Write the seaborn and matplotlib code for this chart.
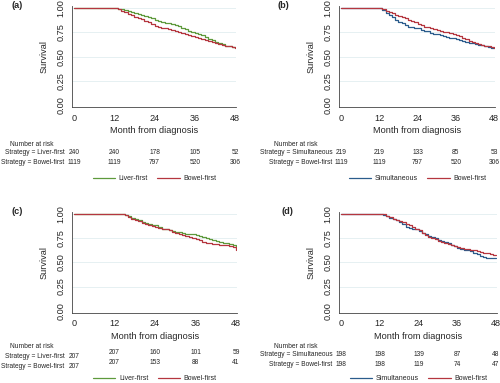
import numpy as np
import pandas as pd
import matplotlib
matplotlib.use("Agg")
import matplotlib.pyplot as plt
import matplotlib.transforms as mtransforms
import seaborn as sns

# tiempos (meses) y supervivencia
months = [0] + list(range(12, 49))

a_liver = [1.00, 1.00, 0.995, 0.99, 0.98, 0.97, 0.96, 0.95, 0.94, 0.93, 0.92, 0.91, 0.895, 0.88,
           0.87, 0.86, 0.85, 0.845, 0.84, 0.83, 0.82, 0.80, 0.785, 0.77, 0.755, 0.74, 0.73, 0.72,
           0.70, 0.685, 0.67, 0.655, 0.645, 0.63, 0.615, 0.605, 0.595, 0.59]
a_bowel = [1.00, 1.00, 0.99, 0.975, 0.96, 0.945, 0.93, 0.915, 0.90, 0.885, 0.87, 0.855, 0.835, 0.82,
           0.81, 0.80, 0.795, 0.785, 0.775, 0.765, 0.755, 0.745, 0.735, 0.725, 0.715, 0.70, 0.69,
           0.68, 0.67, 0.66, 0.65, 0.64, 0.63, 0.62, 0.61, 0.605, 0.60, 0.59]
b_simul = [1.00, 1.00, 0.98, 0.955, 0.93, 0.905, 0.88, 0.86, 0.845, 0.83, 0.81, 0.805, 0.80, 0.795,
           0.78, 0.77, 0.765, 0.745, 0.735, 0.73, 0.72, 0.71, 0.70, 0.695, 0.69, 0.685, 0.675,
           0.665, 0.655, 0.645, 0.64, 0.635, 0.625, 0.62, 0.61, 0.60, 0.59, 0.59]
b_bowel = [1.00, 1.00, 0.99, 0.975, 0.965, 0.95, 0.935, 0.92, 0.905, 0.895, 0.88, 0.865, 0.855, 0.84,
           0.825, 0.81, 0.805, 0.80, 0.79, 0.78, 0.77, 0.76, 0.75, 0.74, 0.73, 0.72, 0.71, 0.695,
           0.68, 0.665, 0.655, 0.645, 0.635, 0.625, 0.615, 0.61, 0.60, 0.59]
c_liver = [1.00, 1.00, 1.00, 0.995, 0.99, 0.975, 0.96, 0.945, 0.935, 0.92, 0.91, 0.90, 0.89, 0.885,
           0.87, 0.85, 0.84, 0.835, 0.825, 0.815, 0.81, 0.80, 0.795, 0.79, 0.79, 0.785, 0.77, 0.76,
           0.75, 0.74, 0.735, 0.725, 0.715, 0.705, 0.695, 0.685, 0.68, 0.66]
c_bowel = [1.00, 1.00, 1.00, 0.995, 0.99, 0.97, 0.95, 0.935, 0.925, 0.91, 0.90, 0.89, 0.88, 0.87,
           0.855, 0.845, 0.84, 0.83, 0.815, 0.80, 0.79, 0.78, 0.77, 0.76, 0.755, 0.745, 0.73,
           0.715, 0.705, 0.695, 0.69, 0.685, 0.68, 0.675, 0.675, 0.67, 0.66, 0.63]
d_simul = [1.00, 1.00, 0.99, 0.975, 0.96, 0.945, 0.935, 0.92, 0.895, 0.865, 0.86, 0.85, 0.845, 0.82,
           0.80, 0.79, 0.775, 0.765, 0.75, 0.735, 0.725, 0.71, 0.695, 0.68, 0.665, 0.645, 0.635,
           0.63, 0.625, 0.615, 0.60, 0.585, 0.565, 0.555, 0.55, 0.545, 0.54, 0.54]
d_bowel = [1.00, 1.00, 0.995, 0.98, 0.965, 0.95, 0.94, 0.93, 0.915, 0.90, 0.89, 0.87, 0.85, 0.83,
           0.805, 0.785, 0.765, 0.75, 0.74, 0.725, 0.715, 0.70, 0.69, 0.68, 0.67, 0.655, 0.645,
           0.64, 0.635, 0.63, 0.625, 0.615, 0.605, 0.60, 0.595, 0.585, 0.575, 0.575]

risk_months = [0, 12, 24, 36, 48]
a_risk = {"Liver-first": [240, 240, 178, 105, 52], "Bowel-first": [1119, 1119, 797, 520, 306]}
b_risk = {"Simultaneous": [219, 219, 133, 85, 53], "Bowel-first": [1119, 1119, 797, 520, 306]}
c_risk = {"Liver-first": [207, 207, 160, 101, 59], "Bowel-first": [207, 207, 153, 88, 41]}
d_risk = {"Simultaneous": [198, 198, 139, 87, 48], "Bowel-first": [198, 198, 119, 74, 47]}

colores = {"Liver-first": "#5e9a3c", "Bowel-first": "#b5363f", "Simultaneous": "#2b5c8c"}

W, H = 500, 383
sns.set_style("white")
plt.rcParams["font.family"] = ["Liberation Sans", "DejaVu Sans"]

fig = plt.figure(figsize=(W / 100, H / 100), dpi=100)

XLIM = (-0.6, 48.3)
YLIM = (-0.025, 1.02)
FS_TAB = 4.75


def fy(py):
    return 1 - py / H


# (etiqueta, series, riesgo, px x=0, px x=48, px y=1, px y=0, desplazamiento vertical,
#  x ylabel, borde derecho de etiquetas, centro "Number at risk", filas, ajuste primera col.,
#  x de la etiqueta del panel, y de la leyenda)
paneles = [
    ("(a)", {"Liver-first": a_liver, "Bowel-first": a_bowel}, a_risk, 74, 235, 8.3, 105,
     0, 49, 64, 32, (145, 153, 163), 0, 12, 179),
    ("(b)", {"Simultaneous": b_simul, "Bowel-first": b_bowel}, b_risk, 341, 494, 8.3, 105,
     0, 316, 332, 296, (144, 153, 163), 0, 278, 179),
    ("(c)", {"Liver-first": c_liver, "Bowel-first": c_bowel}, c_risk, 74, 236, 214, 310.7,
     206, 49, 64, 32, (347, 353, 363), 3, 12, 378.5),
    ("(d)", {"Simultaneous": d_simul, "Bowel-first": d_bowel}, d_risk, 341, 496, 214, 310.7,
     206, 316, 332, 296, (347, 355, 365), 0, 282, 378.5),
]

for (etiq, series, riesgo, x0, x48, y1, y0, dy, ylab_x, lab_right, nar_x, filas,
     shift0, etiq_x, leg_y) in paneles:
    sx = (x48 - x0) / 48.0
    sy = (y0 - y1)
    left = x0 + XLIM[0] * sx
    right = x0 + XLIM[1] * sx
    top = y0 - YLIM[1] * sy
    bottom = y0 - YLIM[0] * sy
    ax = fig.add_axes([left / W, fy(bottom), (right - left) / W, (bottom - top) / H])

    df = pd.concat([pd.DataFrame({"month": months, "survival": v, "Strategy": k})
                    for k, v in series.items()])
    sns.lineplot(data=df, x="month", y="survival", hue="Strategy", palette=colores,
                 drawstyle="steps-post", estimator=None, lw=0.9, ax=ax, legend=True)

    ax.set_xlim(*XLIM)
    ax.set_ylim(*YLIM)
    ax.set_xticks(risk_months)
    ax.set_yticks([0, 0.25, 0.5, 0.75, 1.0])
    ax.set_yticklabels(["0.00", "0.25", "0.50", "0.75", "1.00"])
    ax.tick_params(axis="both", labelsize=6.6, length=2.5, width=0.5, pad=2,
                   color="#444444", direction="out")
    ax.tick_params(axis="y", labelrotation=90)
    for t in ax.get_yticklabels():
        t.set_va("center")
    ax.grid(axis="y", color="#e6f0f2", lw=0.7)
    ax.get_ygridlines()[0].set_visible(False)
    for s in ["top", "right"]:
        ax.spines[s].set_visible(False)
    for s in ["left", "bottom"]:
        ax.spines[s].set_color("#444444")
        ax.spines[s].set_linewidth(0.6)

    ax.set_ylabel("Survival", fontsize=6.6)
    ax.yaxis.set_label_coords((ylab_x - left) / (right - left), 0.5)
    ax.set_xlabel("Month from diagnosis", fontsize=6.6)
    ax.xaxis.set_label_coords(0.5 + (x0 + 24 * sx - (left + right) / 2) / (right - left),
                              -(126 + dy - bottom) / (bottom - top))

    fig.text(etiq_x / W, fy(6 + dy), etiq, fontsize=6.6, fontweight="bold",
             ha="left", va="center")

    # tabla de numero en riesgo
    tr = mtransforms.blended_transform_factory(ax.transData, fig.transFigure)
    fig.text(nar_x / W, fy(filas[0]), "Number at risk", fontsize=FS_TAB, ha="center",
             va="center")
    for i, (k, vals) in enumerate(riesgo.items()):
        yrow = filas[1 + i]
        fig.text((lab_right + 0.5) / W, fy(yrow + shift0), "Strategy = " + k, fontsize=FS_TAB,
                 ha="right", va="center")
        for m, n in zip(risk_months, vals):
            yy = yrow + shift0 if m == 0 else yrow
            ax.text(m, fy(yy), str(n), fontsize=FS_TAB, ha="center", va="center",
                    transform=tr, clip_on=False)

    handles, labels = ax.get_legend_handles_labels()
    ax.legend(handles, labels, loc="center", bbox_to_anchor=(24, fy(leg_y)),
              bbox_transform=tr, ncol=2, frameon=False, fontsize=5, handlelength=3.2,
              handletextpad=0.5, columnspacing=1.4, borderaxespad=0, borderpad=0)

fig.savefig("out.png", dpi=100)
